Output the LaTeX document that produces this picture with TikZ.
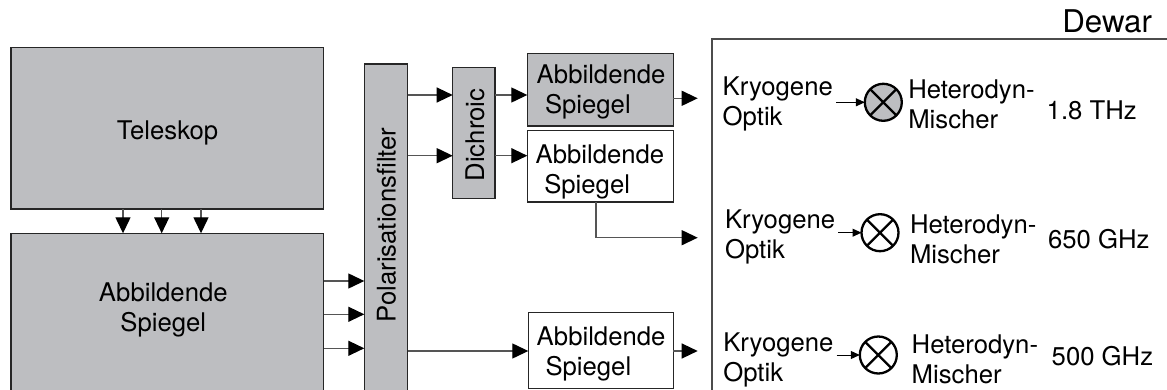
\documentclass[tikz,border=0pt]{standalone}
\usepackage{fontspec}
\setmainfont{TeX Gyre Heros}
\usetikzlibrary{arrows.meta}
\definecolor{boxgray}{HTML}{BDBEC1}
\definecolor{linegray}{HTML}{555555}

\begin{document}
\begin{tikzpicture}[x=1pt,y=-1pt,
  font=\fontsize{25.7}{30}\selectfont,
  box/.style={draw=black!85, line width=1.3pt, outer sep=0pt, inner sep=0pt},
  gbox/.style={box, fill=boxgray},
  wbox/.style={box, fill=white},
  txt/.style={inner sep=0pt, outer sep=0pt},
  conn/.style={draw=linegray, line width=1.3pt, -{Triangle[length=16pt,width=15pt,color=black]}},
  tinyarr/.style={draw=black, line width=1pt, -{Triangle[length=9pt,width=8pt]}},
  mixer/.style={circle, draw=black, line width=2.3pt, minimum size=37pt, inner sep=0pt, outer sep=0pt},
]
\useasboundingbox (0,0) rectangle (1167,390);
\clip (0,0) rectangle (1167,390);

% Dewar enclosure (open to the right and bottom)
\node[box, draw=black!70, minimum width=478pt, minimum height=381pt] (dewar) at (951,229.5) {};
\node[txt, anchor=base east, font=\fontsize{31.3}{36}\selectfont] (dewT) at (1152,33) {Dewar};

% warm optics
\node[gbox, minimum width=312.7pt, minimum height=161.3pt] (tel) at (167.35,128.35) {};
\node[gbox, minimum width=312.7pt, minimum height=186.7pt] (mir) at (167.35,326.65) {};
\node[gbox, minimum width=43.4pt, minimum height=356pt] (pol) at (386,242) {};
\node[gbox, minimum width=42.3pt, minimum height=131pt] (dic) at (473.85,133.2) {};
\node[gbox, minimum width=146pt, minimum height=72.7pt] (ab1) at (600.3,89.65) {};
\node[wbox, minimum width=146pt, minimum height=71.7pt] (ab2) at (600.3,166.15) {};
\node[wbox, minimum width=145pt, minimum height=76pt] (ab3) at (600.8,350.3) {};

\node[txt, anchor=base] (telT) at (167.5,140) {Teleskop};
\node[txt, align=center] (mirT) at (163.3,310.2) {Abbildende\\Spiegel};
\node[txt, rotate=90] (polT) at (386.3,225) {Polarisationsfilter};
\node[txt, rotate=90] (dicT) at (475,135) {Dichroic};
\node[txt, anchor=west, align=left] (ab1T) at (536.7,91.9) {Abbildende\\\hspace*{8.3pt}Spiegel};
\node[txt, anchor=west, align=left] (ab2T) at (535.5,171.9) {Abbildende\\\hspace*{8.8pt}Spiegel};
\node[txt, anchor=west, align=left] (ab3T) at (536.7,353.5) {Abbildende\\\hspace*{8.8pt}Spiegel};

% connector levels
\coordinate (xa) at (123,0);
\coordinate (xb) at (161.7,0);
\coordinate (xc) at (201,0);
\coordinate (xd) at (596,0);
\coordinate (ya) at (0,281);
\coordinate (yb) at (0,314.3);
\coordinate (yc) at (0,348.3);
\coordinate (y1) at (0,95);
\coordinate (y2) at (0,155.7);
\coordinate (y3) at (0,351);
\coordinate (o1) at (697.7,98.3);
\coordinate (o2) at (697.7,237.7);
\coordinate (o3) at (697.7,351);

\draw[conn] (tel.south -| xa) -- (mir.north -| xa);
\draw[conn] (tel.south -| xb) -- (mir.north -| xb);
\draw[conn] (tel.south -| xc) -- (mir.north -| xc);
\draw[conn] (mir.east |- ya) -- (pol.west |- ya);
\draw[conn] (mir.east |- yb) -- (pol.west |- yb);
\draw[conn] (mir.east |- yc) -- (pol.west |- yc);
\draw[conn] (pol.east |- y1) -- (dic.west |- y1);
\draw[conn] (pol.east |- y2) -- (dic.west |- y2);
\draw[conn] (dic.east |- y1) -- (ab1.west |- y1);
\draw[conn] (dic.east |- y2) -- (ab2.west |- y2);
\draw[conn] (pol.east |- y3) -- (ab3.west |- y3);
\draw[conn] (ab1.east |- o1) -- (o1);
\draw[conn] (ab2.south -| xd) |- (o2);
\draw[conn] (ab3.east |- o3) -- (o3);

% cryogenic channels
\node[txt, inner xsep=3.3pt, anchor=west, align=left] (kr1) at (719.4,103.5) {Kryogene\\Optik};
\node[txt, inner xsep=3.3pt, anchor=west, align=left] (kr2) at (721.7,237) {Kryogene\\Optik};
\node[txt, inner xsep=3.3pt, anchor=west, align=left] (kr3) at (720,360.3) {Kryogene\\Optik};

\node[mixer, fill=boxgray] (mx1) at (883.3,102.3) {};
\node[mixer, fill=white] (mx2) at (880,232.7) {};
\node[mixer, fill=white] (mx3) at (878.3,355) {};
\foreach \m in {mx1,mx2,mx3}
  \draw[line width=2.3pt] (\m.45) -- (\m.225) (\m.135) -- (\m.315);

\draw[tinyarr] (kr1.east |- mx1) -- (mx1.west);
\draw[tinyarr] (kr2.east |- mx2) -- (mx2.west);
\draw[tinyarr] (kr3.east |- mx3) -- (mx3.west);

\node[txt, anchor=west, align=left] (he1) at (908.3,104.3) {Heterodyn-\\Mischer};
\node[txt, anchor=west, align=left] (he2) at (910,239.3) {Heterodyn-\\Mischer};
\node[txt, anchor=west, align=left] (he3) at (911.7,359.3) {Heterodyn-\\Mischer};

\node[txt, anchor=base west] (f1) at (1046.7,119.3) {1.8 THz};
\node[txt, anchor=base west] (f2) at (1048,248.3) {650 GHz};
\node[txt, anchor=base west] (f3) at (1051.7,365) {500 GHz};
\end{tikzpicture}
\end{document}
